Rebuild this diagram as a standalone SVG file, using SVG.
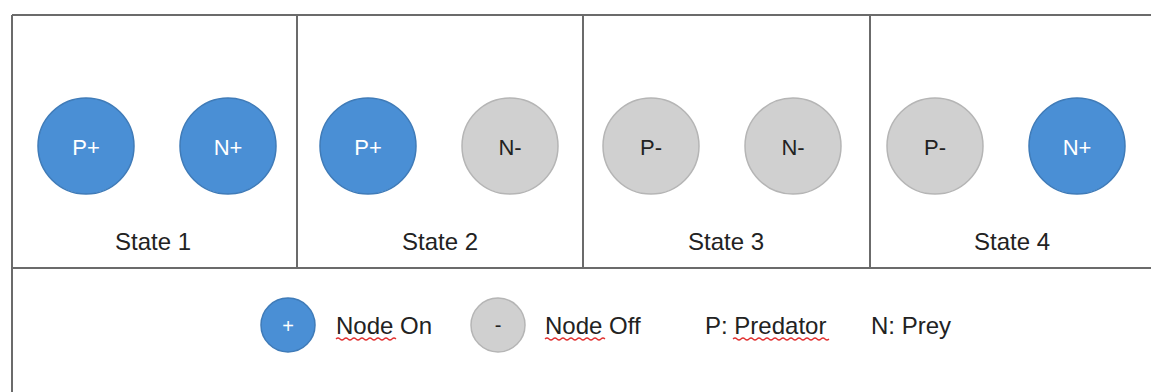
<svg xmlns="http://www.w3.org/2000/svg" width="1151" height="392" viewBox="0 0 1151 392">
<style>
.grid{stroke:#6b6b6b;stroke-width:2;fill:none}
.on{fill:#4a8fd5;stroke:#3f7bb8;stroke-width:1.5}
.off{fill:#d0d0d0;stroke:#b5b5b5;stroke-width:1.5}
.lbl{font-family:"Liberation Sans",Arial,sans-serif;font-size:22px;text-anchor:middle}
.w{fill:#ffffff}
.k{fill:#222222}
.t{font-family:"Liberation Sans",Arial,sans-serif;font-size:24px;fill:#222222}
.sq{stroke:#e03030;stroke-width:1.2;fill:none}
</style>
<rect width="1151" height="392" fill="#ffffff"/>
<g id="grid">
<line class="grid" x1="12" y1="15" x2="1151" y2="15"/>
<line class="grid" x1="12" y1="15" x2="12" y2="392"/>
<line class="grid" x1="12" y1="268" x2="1151" y2="268"/>
<line class="grid" x1="297" y1="15" x2="297" y2="268"/>
<line class="grid" x1="583" y1="15" x2="583" y2="268"/>
<line class="grid" x1="870" y1="15" x2="870" y2="268"/>
</g>
<g id="connectors"></g>
<g id="state1">
<circle class="on" cx="86" cy="146" r="48"/><text class="lbl w" x="86" y="155">P+</text>
<circle class="on" cx="228" cy="146" r="48"/><text class="lbl w" x="228" y="155">N+</text>
<text class="t" x="153" y="250" text-anchor="middle">State 1</text>
</g>
<g id="state2">
<circle class="on" cx="368" cy="146" r="48"/><text class="lbl w" x="368" y="155">P+</text>
<circle class="off" cx="510" cy="146" r="48"/><text class="lbl k" x="510" y="155">N-</text>
<text class="t" x="440" y="250" text-anchor="middle">State 2</text>
</g>
<g id="state3">
<circle class="off" cx="651" cy="146" r="48"/><text class="lbl k" x="651" y="155">P-</text>
<circle class="off" cx="793" cy="146" r="48"/><text class="lbl k" x="793" y="155">N-</text>
<text class="t" x="726" y="250" text-anchor="middle">State 3</text>
</g>
<g id="state4">
<circle class="off" cx="935" cy="146" r="48"/><text class="lbl k" x="935" y="155">P-</text>
<circle class="on" cx="1077" cy="146" r="48"/><text class="lbl w" x="1077" y="155">N+</text>
<text class="t" x="1012" y="250" text-anchor="middle">State 4</text>
</g>
<g id="legend">
<circle class="on" cx="288" cy="325" r="27"/><text class="lbl w" x="288" y="333" style="font-size:20px">+</text>
<text class="t" x="336" y="334">Node On</text>
<path class="sq" d="M336 339 q2 -2 4 0 t4 0 t4 0 t4 0 t4 0 t4 0 t4 0 t4 0 t4 0 t4 0 t4 0 t4 0 t4 0 t4 0 t4 0"/>
<circle class="off" cx="498" cy="325" r="27"/><text class="lbl k" x="498" y="332" style="font-size:20px">-</text>
<text class="t" x="545" y="334">Node Off</text>
<path class="sq" d="M545 339 q2 -2 4 0 t4 0 t4 0 t4 0 t4 0 t4 0 t4 0 t4 0 t4 0 t4 0 t4 0 t4 0 t4 0 t4 0 t4 0"/>
<text class="t" x="705" y="334">P: Predator</text>
<path class="sq" d="M733 339 q2 -2 4 0 t4 0 t4 0 t4 0 t4 0 t4 0 t4 0 t4 0 t4 0 t4 0 t4 0 t4 0 t4 0 t4 0 t4 0 t4 0 t4 0 t4 0 t4 0 t4 0 t4 0 t4 0 t4 0 t4 0"/>
<text class="t" x="871" y="334">N: Prey</text>
</g>
</svg>
